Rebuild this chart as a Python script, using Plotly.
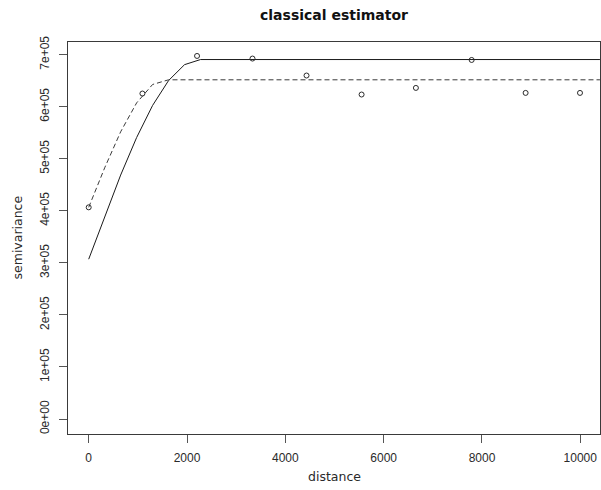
import plotly.graph_objects as go

# empirical semivariogram (classical estimator)
dist = [0, 1093, 2204, 3332, 4431, 5551, 6656, 7790, 8888, 9994]
gamma = [406600, 625200, 697400, 692400, 659800, 623300, 636000, 689700, 626400, 626400]

# fitted model curve 1 (solid)
m1_x = [0, 325, 650, 975, 1300, 1625, 1950, 2275, 10400]
m1_y = [307000, 389500, 468600, 540700, 602400, 650200, 680700, 690500, 690500]

# fitted model curve 2 (dashed)
m2_x = [0, 325, 650, 975, 1300, 1625, 10400]
m2_y = [406600, 482500, 551700, 607300, 642600, 651600, 651600]

y_ticks = [0, 100000, 200000, 300000, 400000, 500000, 600000, 700000]
y_ticktext = ["0e+00", "1e+05", "2e+05", "3e+05", "4e+05", "5e+05", "6e+05", "7e+05"]
x_ticks = [0, 2000, 4000, 6000, 8000, 10000]
x_ticktext = ["0", "2000", "4000", "6000", "8000", "10000"]

FONT = "Liberation Sans, Arial, sans-serif"
WIDE = "DejaVu Sans, Verdana, sans-serif"
TXT = "#2a2a2a"

fig = go.Figure()
fig.add_trace(go.Scatter(x=m1_x, y=m1_y, mode="lines",
                         line=dict(color="#1a1a1a", width=1), showlegend=False))
fig.add_trace(go.Scatter(x=m2_x, y=m2_y, mode="lines",
                         line=dict(color="#3a3a3a", width=1, dash="5px,3px"), showlegend=False))
fig.add_trace(go.Scatter(x=dist, y=gamma, mode="markers",
                         marker=dict(symbol="circle-open", size=5, color="#2a2a2a",
                                     line=dict(width=1, color="#2a2a2a")),
                         showlegend=False))

fig.update_layout(
    width=601, height=490,
    margin=dict(l=68, r=1, t=42, b=56),
    paper_bgcolor="white", plot_bgcolor="white",
    font=dict(family=FONT, size=12, color=TXT),
    title=dict(text="<b>classical estimator</b>", x=0.5, xref="paper",
               y=1 - 15 / 490, yref="container", yanchor="middle", xanchor="center",
               font=dict(family=WIDE, size=14, color="#111111")),
    xaxis=dict(range=[-421, 10401], showgrid=False, zeroline=False,
               showline=True, linecolor="#3a3a3a", linewidth=1, mirror=True,
               ticks="outside", ticklen=8, tickcolor="#555555", tickwidth=1,
               tickvals=x_ticks, ticktext=x_ticktext, ticklabelstandoff=5,
               tickfont=dict(family=FONT, size=12, color=TXT)),
    yaxis=dict(range=[-28770, 724200], showgrid=False, zeroline=False,
               showline=True, linecolor="#3a3a3a", linewidth=1, mirror=True,
               ticks="outside", ticklen=8, tickcolor="#555555", tickwidth=1,
               tickvals=y_ticks, ticktext=y_ticktext, tickangle=-90,
               ticklabelstandoff=5,
               tickfont=dict(family=FONT, size=12, color=TXT)),
    annotations=[
        dict(text="distance", xref="paper", yref="paper", x=0.5, y=0,
             xanchor="center", yanchor="middle", yshift=-42, showarrow=False,
             font=dict(family=WIDE, size=12.5, color=TXT)),
        dict(text="semivariance", xref="paper", yref="paper", x=0, y=0.5,
             xanchor="center", yanchor="middle", xshift=-51.5, textangle=-90,
             showarrow=False, font=dict(family=WIDE, size=12.5, color=TXT)),
    ],
)

fig.write_html("out.html")
